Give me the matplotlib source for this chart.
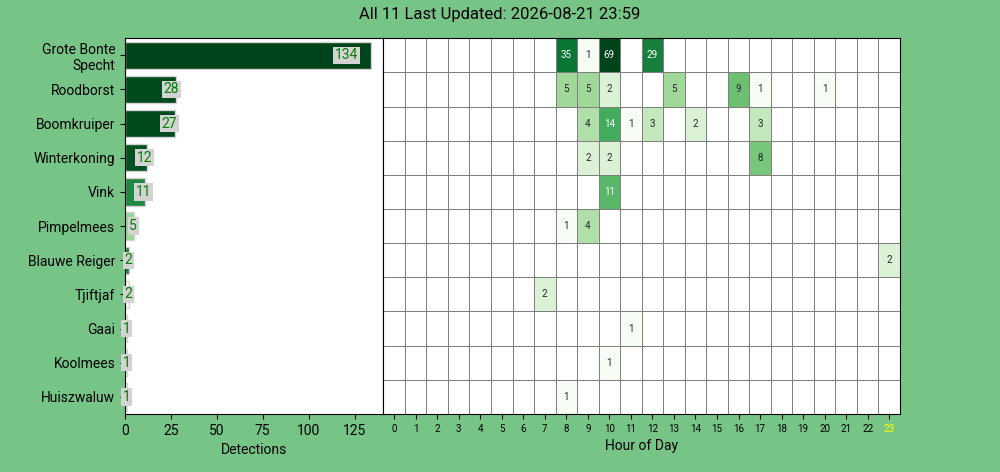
import textwrap

import numpy as np
import pandas as pd
import seaborn as sns
import matplotlib
matplotlib.use("Agg")
from matplotlib import pyplot as plt
from matplotlib.colors import LogNorm

species = [
    "Grote Bonte Specht", "Roodborst", "Boomkruiper", "Winterkoning", "Vink",
    "Pimpelmees", "Blauwe Reiger", "Tjiftjaf", "Gaai", "Koolmees", "Huiszwaluw",
]
detections = [134, 28, 27, 12, 11, 5, 2, 2, 1, 1, 1]
# max confidence per species, only used for the bar colours
max_conf = [0.98, 0.97, 0.97, 0.96, 0.88, 0.72, 0.90, 0.55, 0.56, 0.56, 0.56]

hours = list(range(24))
current_hour = 23
# (species, hour, count)
hourly = [
    ("Grote Bonte Specht", 8, 35), ("Grote Bonte Specht", 9, 1),
    ("Grote Bonte Specht", 10, 69), ("Grote Bonte Specht", 12, 29),
    ("Roodborst", 8, 5), ("Roodborst", 9, 5), ("Roodborst", 10, 2),
    ("Roodborst", 13, 5), ("Roodborst", 16, 9), ("Roodborst", 17, 1),
    ("Roodborst", 20, 1),
    ("Boomkruiper", 9, 4), ("Boomkruiper", 10, 14), ("Boomkruiper", 11, 1),
    ("Boomkruiper", 12, 3), ("Boomkruiper", 14, 2), ("Boomkruiper", 17, 3),
    ("Winterkoning", 9, 2), ("Winterkoning", 10, 2), ("Winterkoning", 17, 8),
    ("Vink", 10, 11),
    ("Pimpelmees", 8, 1), ("Pimpelmees", 9, 4),
    ("Blauwe Reiger", 23, 2),
    ("Tjiftjaf", 7, 2),
    ("Gaai", 11, 1),
    ("Koolmees", 10, 1),
    ("Huiszwaluw", 8, 1),
]

title = "All 11 Last Updated: 2026-08-21 23:59"


def main():
    plt.rcParams["font.family"] = ["Roboto", "DejaVu Sans"]

    f, axs = plt.subplots(
        1, 2, figsize=(10, 4.72), dpi=100,
        gridspec_kw=dict(width_ratios=[1, 2]), facecolor="#77C487",
    )
    f.subplots_adjust(left=0.125, right=0.9, bottom=0.123, top=0.919, wspace=0)

    # bar plot of detections
    norm = plt.Normalize(min(max_conf), max(max_conf))
    colors = plt.cm.Greens(norm(max_conf))
    ax = axs[0]
    ypos = np.arange(len(species))
    ax.barh(ypos, detections, height=0.8, color=colors, edgecolor="lightgrey")
    ax.set_ylim(len(species) - 0.5, -0.5)
    ax.set_xlim(0, max(detections) * 1.05)
    ax.set_yticks(ypos)
    ax.set_yticklabels(["\n".join(textwrap.wrap(s, 15)) for s in species], fontsize=10)
    for y, n in zip(ypos, detections):
        ax.text(n * 0.9, y, str(n), ha="center", va="center", color="green",
                fontsize=10,
                bbox=dict(boxstyle="square,pad=0.12", fc="lightgrey", ec="none"))
    ax.set_xlabel("Detections")

    # heatmap per hour
    heat = pd.DataFrame(np.nan, index=species, columns=hours)
    for name, hour, count in hourly:
        heat.loc[name, hour] = count

    hm = sns.heatmap(heat, norm=LogNorm(), annot=True, annot_kws={"fontsize": 7},
                     fmt="g", cmap="Greens", square=False, cbar=False,
                     linewidths=0.5, linecolor="grey", ax=axs[1], yticklabels=False)
    for label in hm.get_xticklabels():
        if int(label.get_text()) == current_hour:
            label.set_color("yellow")
    hm.set_xticklabels(hm.get_xticklabels(), rotation=0, size=7)
    hm.tick_params(axis="x", length=3.5)
    for _, spine in hm.spines.items():
        spine.set_visible(True)
    hm.set_ylabel(None)
    hm.set_xlabel("Hour of Day")

    plt.suptitle(title, y=0.985)
    plt.savefig("out.png", facecolor=f.get_facecolor())


if __name__ == "__main__":
    main()
